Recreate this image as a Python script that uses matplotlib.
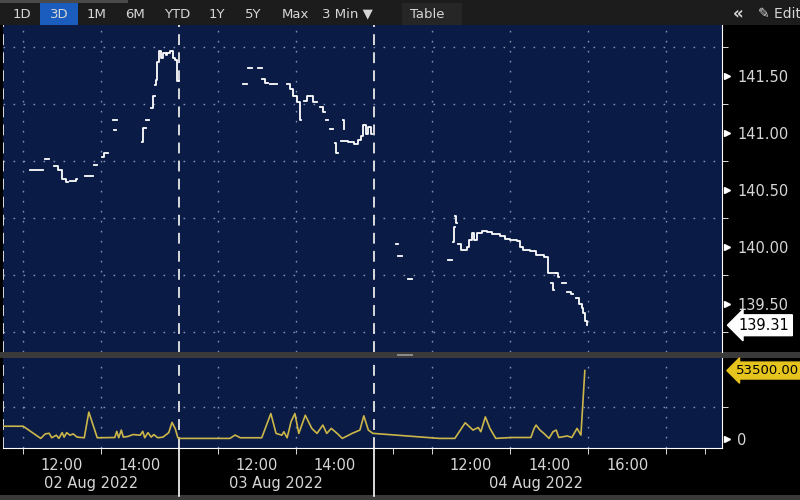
#!/usr/bin/env python3
import numpy as np
import matplotlib.pyplot as plt
import matplotlib.patches as patches
import matplotlib.transforms as mtransforms

## sessions on the compressed time axis
days = ['02 Aug 2022', '03 Aug 2022', '04 Aug 2022']
day_open = ['10:30', '10:00', '09:30']
day_close = ['15:00', '15:00', '18:26']
grid_times = [['11:00', '13:00'], ['11:00', '13:00'], ['11:00', '13:00', '15:00', '17:00']]
label_times = [['12:00', '14:00'], ['12:00', '14:00'], ['12:00', '14:00', '16:00']]
tick_times = [['11:00', '13:00'], ['11:00', '13:00'], ['10:00', '11:00', '13:00', '15:00', '17:00', '18:00']]
date_at = ['12:45', '12:30', '13:40']

## price (None = no print)
p1_t = ['11:12', '11:32', '11:35', '11:41', '11:48', '11:55', '12:01', '12:07', '12:10', '12:13', '12:22', '12:24',
        '12:36', '12:48', '12:50', '12:55', '13:02', '13:06', '13:12', '13:19', '13:26', '13:20', '13:24',
        '14:04', '14:05', '14:10', '14:10', '14:15', '14:17', '14:20', '14:24',
        '14:24', '14:25', '14:27', '14:30', '14:33', '14:36', '14:40', '14:43', '14:47', '14:51', '14:55', '14:58', '15:00']
p1_v = [140.67, None, 140.77, None, 140.71, 140.67, 140.59, 140.57, None, 140.58, 140.59, None,
        140.62, None, 140.72, None, 140.79, 140.82, None, 141.11, None, 141.02, None,
        140.92, 141.04, None, 141.11, None, 141.22, 141.32, None,
        141.42, 141.46, 141.62, 141.72, 141.66, 141.70, 141.68, 141.70, 141.72, 141.66, 141.64, 141.45, None]

p2_t = ['11:39', '11:45', '11:47', '11:53', '12:02', '12:08', '12:08', '12:13', '12:17', '12:21', '12:32',
        '12:47', '12:52', '12:56', '13:02', '13:07', '13:08', '13:13', '13:17', '13:27', '13:33',
        '13:38', '13:42', '13:45', '13:47', '13:50', '13:53', '13:57', '14:01', '14:02', '14:05',
        '14:13', '14:14', '14:15', '14:10', '14:20', '14:30', '14:36', '14:40', '14:44', '14:48', '14:52', '14:56', '14:58']
p2_v = [141.43, None, 141.57, None, 141.57, None, 141.47, 141.44, None, 141.43, None,
        141.43, 141.38, 141.32, 141.27, 141.11, None, 141.28, 141.32, 141.27, None,
        141.23, 141.18, None, 141.11, None, 141.03, None, 140.91, 140.82, None,
        141.11, 141.03, None, 140.93, 140.92, 140.90, 140.94, 140.97, 141.07, 140.99, 141.05, 140.99, None]

p3_t = ['10:05', '10:07', '10:08', '10:14', '10:23', '10:29', '11:25', '11:31', '11:32', '11:33', '11:35',
        '11:36', '11:37', '11:39',
        '11:40', '11:45', '11:50', '11:53', '11:57', '12:01', '12:04', '12:09', '12:13', '12:17', '12:25', '12:32',
        '12:45', '12:52', '13:00', '13:11', '13:15', '13:20', '13:30', '13:40', '13:52', '13:58', '14:08', '14:11',
        '14:03', '14:06', '14:07', '14:10', '14:13', '14:16', '14:20', '14:26', '14:28', '14:34', '14:37',
        '14:42', '14:46', '14:50', '14:52', '14:55', '14:58', '14:59']
p3_v = [140.02, None, 139.92, None, 139.72, None, 139.88, None, 140.04, 140.17, None,
        140.27, 140.21, None,
        140.02, 139.97, 139.97, 140.00, 140.06, 140.12, 140.06, 140.12, 140.12, 140.14, 140.13, 140.11,
        140.09, 140.07, 140.06, 140.05, 140.00, 139.97, 139.96, 139.93, 139.91, 139.77, 139.77, None,
        139.68, 139.62, None, 139.77, 139.73, None, 139.68, None, 139.60, 139.58, None,
        139.55, 139.50, 139.46, 139.42, 139.35, 139.31, None]

## volume
v1_t = ['10:30', '11:01', '11:28', '11:35', '11:41', '11:45', '11:52', '11:56', '12:01', '12:04', '12:08', '12:13',
        '12:18', '12:24', '12:35', '12:42', '12:55', '13:22', '13:25', '13:28', '13:32', '13:35', '13:42', '13:50',
        '14:01', '14:05', '14:08', '14:13', '14:18', '14:22', '14:28', '14:36', '14:45', '14:50', '14:55', '14:59']
v1_v = [10000, 10000, 500, 4000, 4500, 1000, 3000, 500, 5000, 1500, 5000, 3000,
        4000, 1500, 1000, 21000, 1000, 1200, 6000, 1000, 7000, 1500, 2000, 3500,
        3000, 6000, 1000, 5000, 1500, 3500, 1000, 1500, 5000, 13000, 8000, 1000]
v2_t = ['10:01', '11:19', '11:27', '11:35', '12:08', '12:22', '12:30', '12:39', '12:42', '12:47', '12:50', '12:53',
        '12:59', '13:05', '13:15', '13:25', '13:33', '13:42', '13:48', '13:55', '14:04', '14:12', '14:27', '14:39',
        '14:45', '14:52', '14:59']
v2_v = [500, 500, 3100, 1000, 1000, 19900, 4400, 3000, 5700, 1000, 7000, 13500,
        19900, 4400, 18600, 8300, 4400, 10900, 4400, 8300, 4400, 500, 4400, 7000,
        18100, 7000, 4400]
v3_t = ['09:30', '11:11', '11:35', '11:51', '12:03', '12:11', '12:15', '12:22', '12:29', '12:38', '13:02', '13:32',
        '13:37', '13:40', '13:46', '13:52', '14:00', '14:06', '14:11', '14:15', '14:28', '14:35', '14:43', '14:49', '14:55']
v3_v = [4400, 500, 500, 12700, 7000, 9000, 5700, 17300, 8300, 500, 1200, 1200,
        8300, 10900, 7000, 4400, 500, 5700, 7000, 1200, 2400, 1200, 8300, 3100, 53500]

price_ticks = [139.5, 140.0, 140.5, 141.0, 141.5]
price_minor = [139.25, 139.75, 140.25, 140.75, 141.25, 141.75]

## colours
navy = '#0a1b45'
dots = '#8593b3'
txt = '#d6d6d6'


def hrs(s):
    h, m = s.split(':')
    return int(h) + int(m) / 60


offsets = []
total = 0
for o, c in zip(day_open, day_close):
    offsets.append(total - hrs(o))
    total += hrs(c) - hrs(o)
starts = [offsets[d] + hrs(day_open[d]) for d in range(3)]


def pos(d, times):
    return [offsets[d] + hrs(t) for t in times]


W, H = 800, 500
fig = plt.figure(figsize=(8, 5), dpi=100, facecolor='black')


def rect(x0, y0, x1, y1, color):
    fig.add_artist(patches.Rectangle((x0 / W, 1 - y1 / H), (x1 - x0) / W, (y1 - y0) / H,
                                     transform=fig.transFigure, color=color, lw=0, zorder=0))


## toolbar
rect(0, 0, 800, 25, '#1c1c1c')
rect(0, 0, 128, 3, '#4a4a4a')
rect(402, 3, 462, 25, '#262626')
rect(40, 3, 78, 25, '#1b5cbf')
buttons = ['1D', '3D', '1M', '6M', 'YTD', '1Y', '5Y', 'Max', '3 Min ▼', 'Table']
button_x = [22, 59, 97, 135, 177, 217, 253, 295, 347, 427]
for b, bx in zip(buttons, button_x):
    fig.text(bx / W, 1 - 14 / H, b, color=txt, fontsize=9.5, ha='center', va='center')
fig.text(738 / W, 1 - 14 / H, '«', color=txt, fontsize=12, ha='center', va='center', fontweight='bold')
fig.text(758 / W, 1 - 14 / H, '✎ Edit', color=txt, fontsize=10, ha='left', va='center')

## panel separator and bottom strip
rect(0, 352, 800, 358, '#3a3a3a')
rect(397, 354, 413, 356, '#8a8a8a')
rect(0, 495, 800, 500, '#3a3a3a')

ax = fig.add_axes([3 / W, 1 - 352 / H, 719 / W, 327 / H], facecolor=navy)
axv = fig.add_axes([3 / W, 1 - 448 / H, 719 / W, 90 / H], facecolor=navy, sharex=ax)

## price line
for d, (t, v) in enumerate([(p1_t, p1_v), (p2_t, p2_v), (p3_t, p3_v)]):
    y = np.array([np.nan if a is None else a for a in v])
    ax.step(pos(d, t), y, where='post', color='white', lw=1.3, zorder=4)

## volume line
vx = pos(0, v1_t) + pos(1, v2_t) + pos(2, v3_t)
vy = v1_v + v2_v + v3_v
axv.plot(vx, vy, color='#cbb64a', lw=1.2, zorder=4)

ax.set_xlim(0, total)
ax.set_ylim(139.075, 141.946)
axv.set_ylim(-7000, 63300)

## grid
gx = sum([pos(d, grid_times[d]) for d in range(3)], [])
for a in (ax, axv):
    for x in gx:
        a.axvline(x, color=dots, lw=1, ls=(0, (1.2, 6)), zorder=1)
    for x in starts:
        a.axvline(x, color='#e8e8e8', lw=1.3, ls=(0, (6, 4)), zorder=3)
    for s in ['top', 'left']:
        a.spines[s].set_visible(False)
    a.spines['right'].set_color('white')
    a.spines['bottom'].set_visible(False)
for y in price_minor:
    ax.axhline(y, color=dots, lw=1, ls=(0, (1.2, 6)), zorder=1)
axv.axhline(25000, color=dots, lw=1, ls=(0, (1.2, 6)), zorder=1)
axv.spines['bottom'].set_visible(True)
axv.spines['bottom'].set_color('white')

## x axis
lx = sum([pos(d, label_times[d]) for d in range(3)], [])
ll = sum(label_times, [])
axv.set_xticks(lx)
axv.set_xticklabels(ll)
axv.set_xticks(sum([pos(d, tick_times[d]) for d in range(3)], []), minor=True)
axv.tick_params(axis='x', which='major', length=0, pad=7, labelsize=10.5, labelcolor=txt)
axv.tick_params(axis='x', which='minor', length=4, color='white', direction='out')
ax.tick_params(axis='x', which='both', length=0, labelbottom=False)
for d in range(3):
    axv.text(pos(d, [date_at[d]])[0], -0.39, days[d], transform=axv.get_xaxis_transform(),
             ha='center', va='center', color=txt, fontsize=10.5)
for x in starts[1:]:
    axv.plot([x, x], [0, -0.53], transform=axv.get_xaxis_transform(), color='white', lw=1.2, clip_on=False)

## y axes on the right
shift = mtransforms.ScaledTranslation(3.5 / 72, 0, fig.dpi_scale_trans)
ax.yaxis.tick_right()
ax.set_yticks(price_ticks)
ax.set_yticklabels([f'{v:.2f}' for v in price_ticks])
ax.set_yticks(price_minor, minor=True)
ax.tick_params(axis='y', which='major', length=0, pad=11, labelsize=10.5, labelcolor=txt)
ax.tick_params(axis='y', which='minor', length=4, color='white', direction='out')
ax.plot([1] * len(price_ticks), price_ticks, ls='none', marker='>', ms=5, color='white',
        transform=ax.get_yaxis_transform() + shift, clip_on=False)

axv.yaxis.tick_right()
axv.set_yticks([0])
axv.set_yticklabels(['0'])
axv.set_yticks([25000], minor=True)
axv.tick_params(axis='y', which='major', length=0, pad=11, labelsize=10.5, labelcolor=txt)
axv.tick_params(axis='y', which='minor', length=4, color='white', direction='out')
axv.plot([1], [0], ls='none', marker='>', ms=5, color='white',
         transform=axv.get_yaxis_transform() + shift, clip_on=False)

## last value tags
last_p = [v for v in p3_v if v is not None][-1]
ax.annotate(f'{last_p:.2f}', xy=(1, last_p), xycoords=('axes fraction', 'data'), xytext=(12, 0),
            textcoords='offset points', ha='left', va='center', fontsize=10.5, color='black',
            bbox=dict(boxstyle='larrow,pad=0.2', fc='white', ec='white'), annotation_clip=False)
axv.annotate(f'{v3_v[-1]:.2f}', xy=(1, v3_v[-1]), xycoords=('axes fraction', 'data'), xytext=(10, 0),
             textcoords='offset points', ha='left', va='center', fontsize=9.5, color='black',
             bbox=dict(boxstyle='larrow,pad=0.15', fc='#e6c41e', ec='#e6c41e'), annotation_clip=False)

fig.savefig('out.png', dpi=100, facecolor='black')
